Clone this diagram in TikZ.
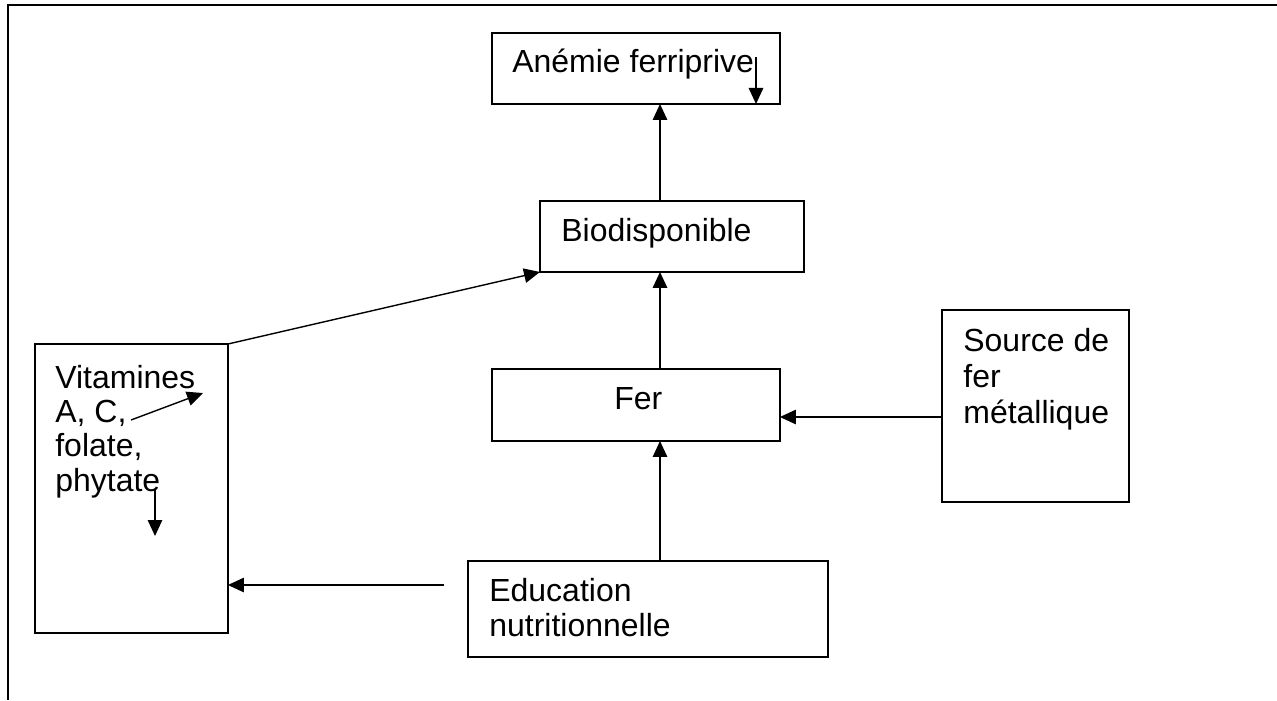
\documentclass[tikz,border=0pt]{standalone}
\usepackage{fontspec}
\setmainfont{Liberation Sans}
\usetikzlibrary{arrows.meta,calc}

\begin{document}
\begin{tikzpicture}[x=0.02cm,y=-0.02cm,
    box/.style={draw,anchor=north west,inner sep=0pt,outer sep=0pt,line width=0.8pt},
    thick box/.style={box,line width=1.15pt},
    lbl/.style={inner sep=0pt,font=\fontsize{18.2}{20}\selectfont},
    arr/.style={-{Triangle[length=0.32cm,width=0.29cm]},line width=0.8pt}]
    \useasboundingbox (0,0) rectangle (1277,700);

    % Draw the page frame
    \draw[line width=1.4pt] (1277,5) -- (8,5) -- (8,700);

    % Define the boxes
    \node[box, minimum width=5.76cm, minimum height=1.42cm] (anemie) at (492,33) {};
    \node[thick box, minimum width=5.28cm, minimum height=1.42cm] (bio) at (540,201) {};
    \node[box, line width=0.95pt, minimum width=5.76cm, minimum height=1.44cm] (fer) at (492,369) {};
    \node[box, minimum width=7.2cm, minimum height=1.92cm] (edu) at (468,561) {};
    \node[box, minimum width=3.86cm, minimum height=5.78cm] (vit) at (35,344) {};
    \node[thick box, minimum width=3.74cm, minimum height=3.84cm] (src) at (942,310) {};

    % Place the texts in the boxes
    \node[lbl, anchor=base west] (anemie-txt) at (512,72) {Anémie ferriprive};
    \node[lbl, anchor=base west] (bio-txt) at (561,241) {Biodisponible};
    \node[lbl, anchor=base west] (fer-txt) at (614,409) {Fer};
    \node[lbl, anchor=north west, align=left, font=\fontsize{18.2}{19.9}\selectfont]
        (edu-txt) at (489,578) {Education\\nutritionnelle};
    \node[lbl, anchor=north west, align=left, font=\fontsize{18.2}{19.45}\selectfont]
        (vit-txt) at (55,365) {Vitamines\\A, C,\\folate,\\phytate};
    \node[lbl, anchor=north west, align=left, font=\fontsize{18.2}{20.5}\selectfont]
        (src-txt) at (963,328) {Source de\\fer\\métallique};

    % Free ends of the connectors
    \coordinate (axe) at (660,0);
    \coordinate (src-out) at (942,417);
    \coordinate (edu-out) at (444,585);
    \coordinate (ac) at (131,420);
    \coordinate (ac-end) at (203,393);
    \coordinate (phy) at (155,490);
    \coordinate (phy-end) at (155,536);
    \coordinate (fp) at (756,57);

    % Draw the connectors
    \draw[arr] (bio.north -| axe) -- (anemie.south -| axe);
    \draw[arr, line width=1pt] (fer.north -| axe) -- (bio.south -| axe);
    \draw[arr] (edu.north -| axe) -- (fer.south -| axe);
    \draw[arr] (src-out) -- (src-out -| fer.east);
    \draw[arr] (edu-out) -- (edu-out -| vit.east);
    \draw[arr] (vit.north east) -- (bio.south west);

    % Small arrows inside the boxes
    \draw[arr] (ac) -- (ac-end);
    \draw[arr] (phy) -- (phy-end);
    \draw[arr] (fp) -- (fp |- anemie.south);

\end{tikzpicture}
\end{document}
